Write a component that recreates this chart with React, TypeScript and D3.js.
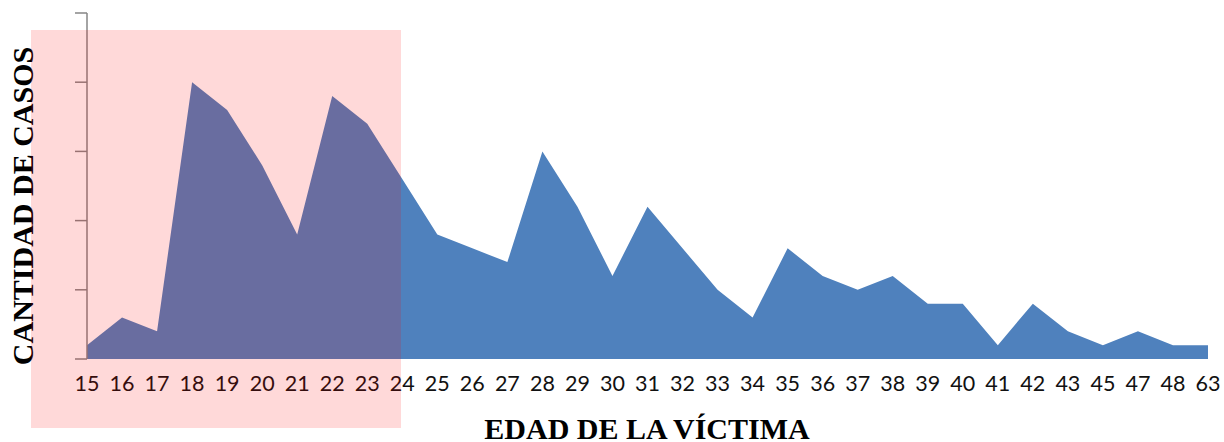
import React from "react";
import * as d3 from "d3";

const ages = ["15","16","17","18","19","20","21","22","23","24","25","26","27","28","29","30","31","32","33","34","35","36","37","38","39","40","41","42","43","45","47","48","63"];
const cases = [1,3,2,20,18,14,9,19,17,13,9,8,7,15,11,6,11,8,5,3,8,6,5,6,4,4,1,4,2,1,2,1,1];
const yTicks = [0,5,10,15,20,25];

export default function App() {
  const W = 1224, H = 442;
  const x = d3.scalePoint<string>().domain(ages).range([87, 1208]);
  const y = d3.scaleLinear().domain([0, 25]).range([359, 13]);
  const area = d3.area<number>()
    .x((_, i) => x(ages[i]) as number)
    .y0(y(0))
    .y1((d) => y(d));
  return (
    <svg width={W} height={H} style={{ position: "absolute", left: 0, top: 0 }}>
      <path d={area(cases) || ""} fill="#4f81bd" />
      <line x1={87} x2={87} y1={y(25)} y2={y(0)} stroke="#868686" strokeWidth={1.5} />
      {yTicks.map((t) => (
        <line key={t} x1={75} x2={87} y1={y(t)} y2={y(t)} stroke="#868686" strokeWidth={1.5} />
      ))}
      {ages.map((a) => (
        <text key={a} x={x(a)} y={391} textAnchor="middle" fontFamily="Lato, 'Open Sans', sans-serif" fontSize={21.5} fill="#111">
          {a}
        </text>
      ))}
      <text x={647} y={439} textAnchor="middle" fontFamily="'Liberation Serif', 'DejaVu Serif', serif" fontWeight="bold" fontSize={30} fill="#000">
        EDAD DE LA VÍCTIMA
      </text>
      <text transform={`translate(33,206) rotate(-90)`} textAnchor="middle" fontFamily="'Liberation Serif', 'DejaVu Serif', serif" fontWeight="bold" fontSize={30} fill="#000">
        CANTIDAD DE CASOS
      </text>
      <rect x={31} y={30} width={370} height={398} fill="rgb(255,0,0)" fillOpacity={0.15} />
    </svg>
  );
}
